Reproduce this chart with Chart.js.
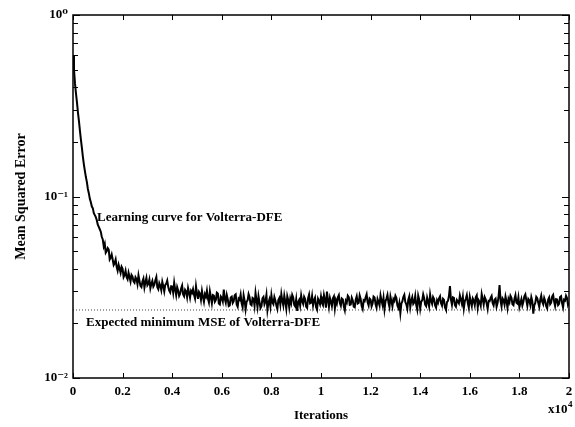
<!DOCTYPE html>
<html>
<head>
<meta charset="utf-8">
<script src="https://cdn.jsdelivr.net/npm/chart.js@4.4.1/dist/chart.umd.min.js"></script>
<style>
    html, body { margin: 0; padding: 0; background: #fff; }
    #wrap { width: 575px; height: 427px; }
</style>
</head>
<body>
<div id="wrap"><canvas id="mse-chart"></canvas></div>
<script>
// sample spacing of the learning curve (iterations)
const sampleStep = 40;

// MSE, one value every 40 iterations
const mseValues = [
    0.60, 0.50, 0.42, 0.37, 0.33, 0.29, 0.26, 0.23, 0.205, 0.185,
    0.165, 0.15, 0.138, 0.128, 0.12, 0.11, 0.104, 0.097, 0.093, 0.088,
    0.086, 0.081, 0.079, 0.077, 0.074, 0.070, 0.068, 0.066, 0.064, 0.060,
    0.058, 0.053, 0.055, 0.049, 0.050, 0.052, 0.051, 0.045, 0.046, 0.048,
    0.045, 0.042, 0.043, 0.045, 0.041, 0.039, 0.042, 0.040, 0.038, 0.041,
    0.040, 0.036, 0.037, 0.039, 0.036, 0.035, 0.038, 0.036, 0.034, 0.037,
    0.0362, 0.0341, 0.0335, 0.0359, 0.0351, 0.0329, 0.0368, 0.0344, 0.0322, 0.0317,
    0.0340, 0.0353, 0.0315, 0.0337, 0.0356, 0.0324, 0.0331, 0.0349, 0.0312, 0.0330,
    0.0343, 0.0319, 0.0327, 0.0346, 0.0360, 0.0316, 0.0308, 0.0333, 0.0322, 0.0305,
    0.0339, 0.0321, 0.0300, 0.0326, 0.0331, 0.0344, 0.0318, 0.0303, 0.0296, 0.0320,
    0.0319, 0.0295, 0.0335, 0.0308, 0.0286, 0.0317, 0.0304, 0.0283, 0.0291, 0.0311,
    0.0323, 0.0289, 0.0282, 0.0306, 0.0300, 0.0279, 0.0313, 0.0296, 0.0277, 0.0302,
    0.0295, 0.0309, 0.0287, 0.0274, 0.0320, 0.0292, 0.0273, 0.0298, 0.0291, 0.0270,
    0.0302, 0.0280, 0.0263, 0.0290, 0.0281, 0.0303, 0.0274, 0.0261, 0.0300, 0.0279,
    0.0258, 0.0286, 0.0284, 0.0263, 0.0269, 0.0295, 0.0292, 0.0257, 0.0254, 0.0281,
    0.0276, 0.0264, 0.0307, 0.0273, 0.0260, 0.0287, 0.0272, 0.0249, 0.0251, 0.0278,
    0.0281, 0.0259, 0.0265, 0.0286, 0.0289, 0.0254, 0.0247, 0.0274, 0.0270, 0.0288,
    0.0258, 0.0245, 0.0285, 0.0267, 0.0239, 0.0263, 0.0268, 0.0290, 0.0279, 0.0255,
    0.0252, 0.0276, 0.0273, 0.0250, 0.0294, 0.0268, 0.0246, 0.0282, 0.0262, 0.0243,
    0.0249, 0.0275, 0.0280, 0.0255, 0.0264, 0.0287, 0.0237, 0.0260, 0.0271, 0.0248,
    0.0286, 0.0261, 0.0255, 0.0279, 0.0267, 0.0251, 0.0240, 0.0269, 0.0276, 0.0254,
    0.0290, 0.0266, 0.0251, 0.0284, 0.0263, 0.0241, 0.0282, 0.0268, 0.0245, 0.0273,
    0.0259, 0.0287, 0.0278, 0.0253, 0.0248, 0.0271, 0.0234, 0.0262, 0.0269, 0.0251,
    0.0285, 0.0265, 0.0256, 0.0280, 0.0272, 0.0247, 0.0243, 0.0275, 0.0288, 0.0258,
    0.0260, 0.0283, 0.0251, 0.0268, 0.0277, 0.0246, 0.0238, 0.0273, 0.0265, 0.0255,
    0.0281, 0.0259, 0.0252, 0.0286, 0.0269, 0.0244, 0.0299, 0.0270, 0.0247, 0.0276,
    0.0263, 0.0249, 0.0275, 0.0282, 0.0242, 0.0268, 0.0257, 0.0278, 0.0286, 0.0259,
    0.0250, 0.0274, 0.0271, 0.0248, 0.0236, 0.0266, 0.0260, 0.0284, 0.0279, 0.0253,
    0.0254, 0.0277, 0.0268, 0.0247, 0.0245, 0.0270, 0.0282, 0.0257, 0.0259, 0.0285,
    0.0273, 0.0249, 0.0240, 0.0268, 0.0265, 0.0278, 0.0289, 0.0261, 0.0251, 0.0274,
    0.0270, 0.0248, 0.0257, 0.0281, 0.0278, 0.0255, 0.0244, 0.0272, 0.0262, 0.0251,
    0.0285, 0.0267, 0.0253, 0.0276, 0.0239, 0.0264, 0.0274, 0.0287, 0.0260, 0.0246,
    0.0281, 0.0265, 0.0248, 0.0272, 0.0266, 0.0284, 0.0276, 0.0251, 0.0243, 0.0259,
    0.0228, 0.0257, 0.0264, 0.0279, 0.0287, 0.0262, 0.0255, 0.0241, 0.0270, 0.0282,
    0.0246, 0.0267, 0.0279, 0.0256, 0.0261, 0.0283, 0.0252, 0.0238, 0.0284, 0.0270,
    0.0241, 0.0263, 0.0268, 0.0289, 0.0275, 0.0254, 0.0249, 0.0277, 0.0263, 0.0248,
    0.0288, 0.0266, 0.0256, 0.0279, 0.0272, 0.0251, 0.0244, 0.0268, 0.0260, 0.0275,
    0.0282, 0.0258, 0.0250, 0.0273, 0.0269, 0.0245, 0.0238, 0.0262, 0.0266, 0.0283,
    0.0321, 0.0270, 0.0253, 0.0278, 0.0276, 0.0252, 0.0247, 0.0269, 0.0264, 0.0258,
    0.0285, 0.0271, 0.0257, 0.0280, 0.0242, 0.0265, 0.0273, 0.0286, 0.0259, 0.0244,
    0.0280, 0.0263, 0.0249, 0.0274, 0.0267, 0.0252, 0.0278, 0.0285, 0.0245, 0.0268,
    0.0262, 0.0250, 0.0290, 0.0272, 0.0254, 0.0279, 0.0271, 0.0257, 0.0240, 0.0266,
    0.0265, 0.0276, 0.0283, 0.0259, 0.0251, 0.0270, 0.0274, 0.0247, 0.0259, 0.0281,
    0.0325, 0.0266, 0.0248, 0.0275, 0.0269, 0.0254, 0.0281, 0.0265, 0.0243, 0.0272,
    0.0262, 0.0284, 0.0277, 0.0255, 0.0252, 0.0273, 0.0286, 0.0260, 0.0257, 0.0278,
    0.0246, 0.0259, 0.0272, 0.0251, 0.0263, 0.0282, 0.0289, 0.0268, 0.0250, 0.0273,
    0.0268, 0.0253, 0.0279, 0.0265, 0.0226, 0.0251, 0.0259, 0.0280, 0.0275, 0.0260,
    0.0247, 0.0269, 0.0284, 0.0263, 0.0255, 0.0276, 0.0266, 0.0249, 0.0242, 0.0271,
    0.0278, 0.0255, 0.0260, 0.0281, 0.0287, 0.0264, 0.0249, 0.0272, 0.0271, 0.0252,
    0.0256, 0.0279, 0.0282, 0.0259, 0.0245, 0.0270, 0.0267, 0.0284, 0.0276, 0.0253,
    0.0261
];

// expected minimum MSE (dotted reference line)
const minMse = 0.0237;
const minMseRange = [0, 20000];

const xTickValues = [0, 2000, 4000, 6000, 8000, 10000, 12000, 14000, 16000, 18000, 20000];
const yDecades = [0.01, 0.1, 1];
const yDecadeLabels = ['10\u207B\u00B2', '10\u207B\u00B9', '10\u2070'];

const curvePoints = mseValues.map((v, i) => ({x: i * sampleStep, y: v}));
const minPoints = minMseRange.map(x => ({x: x, y: minMse}));

const serif = '"Liberation Serif", "DejaVu Serif", serif';

// frame, inward ticks and the text labels placed inside the plot
const framePlugin = {
    id: 'frame',
    afterDraw(chart) {
        const {ctx, chartArea: a, scales} = chart;
        ctx.save();
        ctx.strokeStyle = '#000';
        ctx.lineWidth = 1.5;
        ctx.strokeRect(a.left, a.top, a.right - a.left, a.bottom - a.top);

        ctx.lineWidth = 1;
        ctx.beginPath();
        // x ticks on bottom and top
        for (const t of scales.x.ticks) {
            const px = Math.round(scales.x.getPixelForValue(t.value)) + 0.5;
            ctx.moveTo(px, a.bottom); ctx.lineTo(px, a.bottom - 5);
            ctx.moveTo(px, a.top); ctx.lineTo(px, a.top + 5);
        }
        // log ticks on left and right
        for (const t of scales.y.ticks) {
            const py = Math.round(scales.y.getPixelForValue(t.value)) + 0.5;
            const len = t.major ? 7 : 5;
            ctx.moveTo(a.left, py); ctx.lineTo(a.left + len, py);
            ctx.moveTo(a.right, py); ctx.lineTo(a.right - len, py);
        }
        ctx.stroke();

        ctx.fillStyle = '#000';
        ctx.font = 'bold 13px ' + serif;
        ctx.textBaseline = 'middle';
        ctx.textAlign = 'left';
        ctx.fillText('Learning curve for Volterra-DFE', 97, 218);
        ctx.fillText('Expected minimum MSE of Volterra-DFE', 86, 323);
        ctx.fillText('x10', 548, 410);
        ctx.font = 'bold 9px ' + serif;
        ctx.fillText('4', 568, 405);
        ctx.restore();
    }
};

new Chart(document.getElementById('mse-chart'), {
    type: 'line',
    data: {
        datasets: [
            {
                label: 'Learning curve for Volterra-DFE',
                data: curvePoints,
                borderColor: '#000',
                borderWidth: 2,
                pointRadius: 0,
                tension: 0
            },
            {
                label: 'Expected minimum MSE of Volterra-DFE',
                data: minPoints,
                borderColor: '#444',
                borderWidth: 1,
                borderDash: [1, 2],
                pointRadius: 0
            }
        ]
    },
    options: {
        responsive: true,
        maintainAspectRatio: false,
        animation: false,
        layout: {padding: {top: 15, right: 6, left: 0, bottom: 0}},
        plugins: {
            legend: {display: false},
            tooltip: {enabled: false}
        },
        scales: {
            x: {
                type: 'linear',
                min: 0,
                max: 20000,
                afterBuildTicks: scale => {
                    scale.ticks = xTickValues.map(v => ({value: v}));
                },
                afterFit: scale => {
                    scale.height = 49;
                    scale.paddingLeft = 0;
                    scale.paddingRight = 0;
                },
                grid: {display: false, drawTicks: false},
                border: {display: false},
                ticks: {
                    padding: 6,
                    color: '#000',
                    maxRotation: 0,
                    font: {family: serif, size: 13, weight: 'bold'},
                    callback: v => String(+(v / 10000).toFixed(1))
                },
                title: {
                    display: true,
                    text: 'Iterations',
                    color: '#000',
                    padding: {top: 4},
                    font: {family: serif, size: 13, weight: 'bold'}
                }
            },
            y: {
                type: 'logarithmic',
                min: 0.01,
                max: 1,
                afterBuildTicks: scale => {
                    const ticks = [];
                    for (let d = 0; d < yDecades.length - 1; d++) {
                        for (let m = 1; m < 10; m++) {
                            ticks.push({value: yDecades[d] * m, major: m === 1});
                        }
                    }
                    ticks.push({value: 1, major: true});
                    scale.ticks = ticks;
                },
                afterFit: scale => {
                    scale.width = 73;
                    scale.paddingTop = 0;
                    scale.paddingBottom = 0;
                },
                grid: {display: false, drawTicks: false},
                border: {display: false},
                ticks: {
                    padding: 5,
                    color: '#000',
                    autoSkip: false,
                    font: {family: serif, size: 13, weight: 'bold'},
                    callback: function (v) {
                        const idx = yDecades.findIndex(d => Math.abs(d - v) < d * 1e-6);
                        return idx >= 0 ? yDecadeLabels[idx] : '';
                    }
                },
                title: {
                    display: true,
                    text: 'Mean Squared Error',
                    color: '#000',
                    padding: {top: 13},
                    font: {family: serif, size: 14, weight: 'bold'}
                }
            }
        }
    },
    plugins: [framePlugin]
});
</script>
</body>
</html>
